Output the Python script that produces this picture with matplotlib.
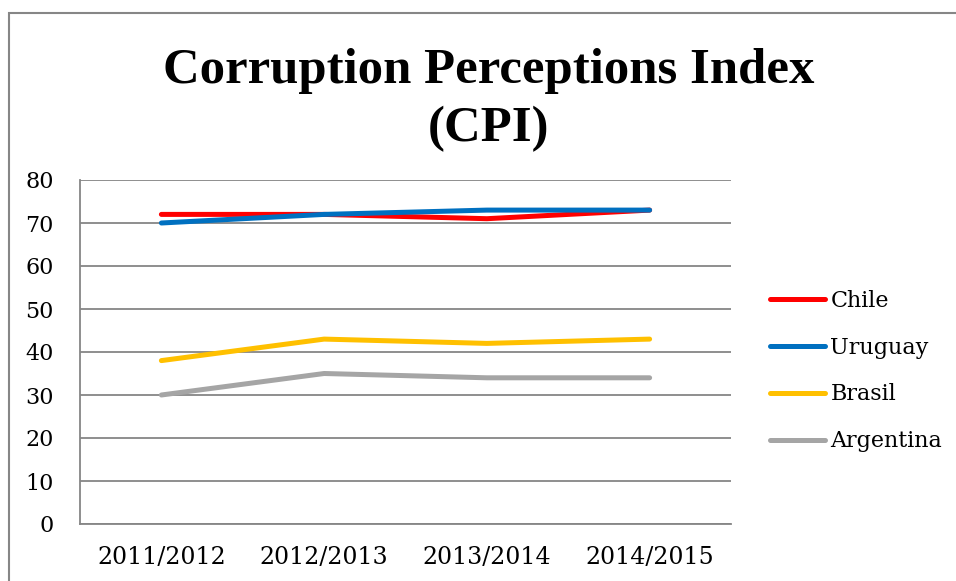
import matplotlib.pyplot as plt
from matplotlib.patches import Rectangle

# data
periods = ["2011/2012", "2012/2013", "2013/2014", "2014/2015"]
chile = [72, 72, 71, 73]
uruguay = [70, 72, 73, 73]
brasil = [38, 43, 42, 43]
argentina = [30, 35, 34, 34]

series = [("Chile", chile, "#FF0000"),
          ("Uruguay", uruguay, "#0070C0"),
          ("Brasil", brasil, "#FFC000"),
          ("Argentina", argentina, "#A5A5A5")]

plt.rcParams['font.family'] = ['DejaVu Serif']

W, H = 956, 581
fig = plt.figure(figsize=(W / 100, H / 100), dpi=100)

# outer chart frame (runs off the right/bottom edge)
fig.patches.append(Rectangle((9 / W, -0.1), 1.2, 1 - 13 / H + 0.1, transform=fig.transFigure,
                             fill=False, edgecolor="#868686", linewidth=1.5))

ax = fig.add_axes([80 / W, 1 - 524 / H, (731 - 80) / W, (524 - 180) / H])
x = range(len(periods))
for name, vals, col in series:
    ax.plot(x, vals, color=col, linewidth=3.6, solid_capstyle="round", label=name)

ax.set_xlim(-0.5, len(periods) - 0.5)
ax.set_ylim(0, 80)
ax.set_yticks(range(0, 81, 10))
ax.set_xticks(list(x))
ax.set_xticklabels(periods)
ax.yaxis.grid(True, color="#868686", linewidth=1.3)
ax.set_axisbelow(True)
for s in ["top", "right"]:
    ax.spines[s].set_visible(False)
for s in ["left", "bottom"]:
    ax.spines[s].set_color("#868686")
    ax.spines[s].set_linewidth(1.3)
ax.tick_params(length=0, labelsize=16)
ax.tick_params(axis="x", pad=16, labelsize=17)
ax.tick_params(axis="y", pad=19)

fig.text(489 / W, 1 - 100 / H, "Corruption Perceptions Index\n(CPI)", ha="center", va="center",
         fontsize=36.5, fontweight="bold", linespacing=1.36,
         family=["Liberation Serif", "DejaVu Serif"])

fig.legend(loc="center left", bbox_to_anchor=(761 / W, 1 - 371 / H), frameon=False,
           fontsize=16, handlelength=2.5, handletextpad=0.22, labelspacing=1.12,
           borderaxespad=0)

fig.savefig("out.png", dpi=100)
